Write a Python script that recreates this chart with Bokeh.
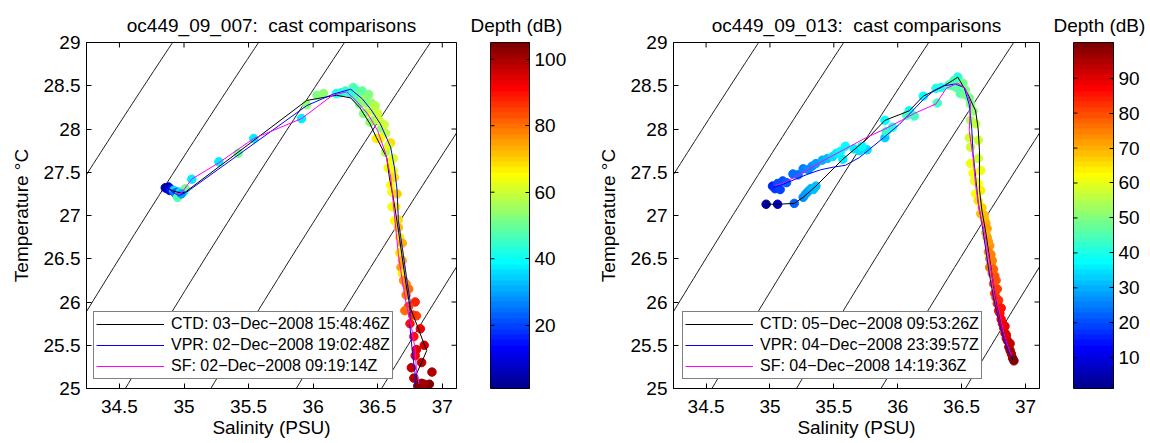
import numpy as np
from bokeh.plotting import figure
from bokeh.layouts import row
from bokeh.models import (ColumnDataSource, LinearColorMapper, FixedTicker,
                          LinearAxis, Range1d)
from bokeh.embed import file_html
from bokeh.resources import INLINE

FONT = "Liberation Sans"

# ---------------- data ----------------
titles = ["oc449_09_007:\u00a0 cast comparisons", "oc449_09_013:\u00a0 cast comparisons"]
colorbar_title = "Depth (dB)"
x_label = "Salinity (PSU)"
y_label = "Temperature °C"

legend_007 = ["CTD: 03−Dec−2008 15:48:46Z", "VPR: 02−Dec−2008 19:02:48Z", "SF: 02−Dec−2008 09:19:14Z"]
legend_013 = ["CTD: 05−Dec−2008 09:53:26Z", "VPR: 04−Dec−2008 23:39:57Z", "SF: 04−Dec−2008 14:19:36Z"]

x_ticks = [34.5, 35, 35.5, 36, 36.5, 37]
x_tick_labels = ["34.5", "35", "35.5", "36", "36.5", "37"]
y_ticks = [25, 25.5, 26, 26.5, 27, 27.5, 28, 28.5, 29]
y_tick_labels = ["25", "25.5", "26", "26.5", "27", "27.5", "28", "28.5", "29"]
salinity_range = [34.245, 37.11]
temperature_range = [25, 29]
sigma_levels = [21.5, 22.0, 22.5, 23.0, 23.5, 24.0, 24.5, 25.0, 25.5]

depth_range_007 = [1, 105]
depth_ticks_007 = [20, 40, 60, 80, 100]
depth_range_013 = [1.2, 100.2]
depth_ticks_013 = [10, 20, 30, 40, 50, 60, 70, 80, 90]

# cast 007 profiles (lines)
ctd007_S = [34.86, 34.92, 34.98, 35.01, 35.95, 36.18, 36.29, 36.36, 36.44, 36.49, 36.57, 36.59,
            36.62, 36.66, 36.69, 36.72, 36.75, 36.81, 36.85, 36.88, 36.84, 36.80, 36.81]
ctd007_T = [27.33, 27.28, 27.26, 27.27, 28.33, 28.39, 28.36, 28.25, 28.06, 27.90, 27.67, 27.44,
            27.21, 26.83, 26.51, 26.20, 25.94, 25.71, 25.55, 25.44, 25.30, 25.17, 25.06]
vpr007_S = [34.86, 34.90, 34.96, 35.02, 35.42, 35.95, 36.15, 36.29, 36.38, 36.45, 36.52, 36.60,
            36.63, 36.65, 36.66, 36.69, 36.73, 36.75, 36.75, 36.77, 36.79, 36.79]
vpr007_T = [27.34, 27.28, 27.23, 27.27, 27.70, 28.27, 28.40, 28.46, 28.35, 28.22, 28.06, 27.79,
            27.55, 27.29, 26.94, 26.63, 26.21, 26.02, 25.71, 25.40, 25.17, 25.03]
sf007_S = [34.93, 34.98, 35.06, 35.27, 35.54, 35.91, 36.15, 36.26, 36.33, 36.42, 36.50, 36.56,
           36.60, 36.62, 36.64, 36.66, 36.69, 36.72, 36.76, 36.79, 36.80, 36.82]
sf007_T = [27.25, 27.26, 27.42, 27.61, 27.89, 28.12, 28.39, 28.43, 28.33, 28.18, 27.98, 27.72,
           27.45, 27.15, 26.85, 26.55, 26.25, 25.98, 25.72, 25.45, 25.20, 25.05]

# cast 007 observations coloured by depth
obs007_S = [34.855, 34.87, 34.88, 34.89, 34.90, 34.92, 34.93, 34.95, 34.96, 34.97, 34.95, 35.00, 35.01, 34.98,
            35.06, 35.27, 35.42, 35.54, 35.91, 35.95, 36.03, 36.08, 36.18, 36.22, 36.25, 36.29, 36.31, 36.33,
            36.34, 36.36, 36.36, 36.39, 36.42, 36.39, 36.45, 36.48, 36.50, 36.47, 36.44, 36.53, 36.56, 36.52,
            36.49, 36.60, 36.56, 36.58, 36.62, 36.62, 36.63, 36.60, 36.61, 36.65, 36.61, 36.64, 36.63, 36.66,
            36.66, 36.67, 36.69, 36.67, 36.69, 36.68, 36.69, 36.70, 36.72, 36.74, 36.72, 36.79, 36.74, 36.71,
            36.80, 36.77, 36.75, 36.83, 36.78, 36.86, 36.80, 36.79, 36.84, 36.76, 36.92, 36.78, 36.81, 36.84,
            36.90, 36.86,
            36.38, 36.41, 36.43, 36.46, 36.51, 36.55, 36.58, 36.60]
obs007_T = [27.32, 27.31, 27.33, 27.29, 27.30, 27.29, 27.26, 27.27, 27.24, 27.27, 27.21, 27.28, 27.31, 27.25,
            27.42, 27.62, 27.72, 27.89, 28.12, 28.28, 28.39, 28.41, 28.41, 28.42, 28.44, 28.41, 28.48, 28.45,
            28.35, 28.42, 28.29, 28.36, 28.19, 28.18, 28.30, 28.27, 28.18, 28.10, 28.08, 28.01, 27.95, 27.89,
            27.89, 27.84, 27.73, 27.55, 27.66, 27.52, 27.44, 27.35, 27.27, 27.25, 27.10, 27.10, 26.94, 26.95,
            26.86, 26.75, 26.68, 26.57, 26.48, 26.40, 26.33, 26.25, 26.21, 26.15, 26.08, 26.00, 25.95, 25.90,
            25.84, 25.85, 25.75, 25.69, 25.60, 25.50, 25.45, 25.38, 25.30, 25.24, 25.19, 25.12, 25.03, 25.06,
            25.05, 25.05,
            28.44, 28.30, 28.40, 28.22, 28.10, 28.05, 27.80, 27.62]
obs007_depth = [3, 6, 5, 12, 15, 36, 26, 22, 33, 37, 47, 38, 50, 30,
                37, 38, 50, 38, 38, 53, 52, 53, 40, 42, 44, 43, 47, 46,
                48, 50, 50, 55, 63, 52, 55, 57, 60, 56, 53, 54, 58, 65,
                66, 68, 57, 63, 62, 64, 68, 65, 64, 70, 64, 67, 65, 69,
                72, 66, 74, 66, 74, 75, 66, 77, 76, 80, 78, 88, 84, 80,
                84, 86, 90, 92, 90, 96, 95, 93, 97, 98, 100, 100, 103, 102,
                104, 101,
                49, 53, 52, 58, 61, 60, 62, 63]

# cast 013 profiles (lines)
ctd013_S = [34.97, 35.06, 35.19, 35.26, 35.36, 35.57, 35.77, 35.90, 36.09, 36.20, 36.34, 36.43, 36.47,
            36.55, 36.61, 36.63, 36.64, 36.64, 36.64, 36.66, 36.69, 36.72, 36.75, 36.78, 36.82, 36.86, 36.90]
ctd013_T = [27.13, 27.13, 27.14, 27.21, 27.34, 27.65, 27.90, 28.10, 28.21, 28.38, 28.48, 28.56, 28.60,
            28.40, 28.21, 28.00, 27.75, 27.55, 27.30, 27.05, 26.80, 26.50, 26.20, 25.95, 25.70, 25.50, 25.33]
vpr013_S = [35.02, 35.10, 35.20, 35.30, 35.40, 35.50, 35.59, 35.70, 35.89, 36.01, 36.11, 36.20, 36.29,
            36.36, 36.45, 36.52, 36.56, 36.58, 36.59, 36.61, 36.63, 36.66, 36.69, 36.72, 36.75, 36.78,
            36.81, 36.84, 36.87, 36.90]
vpr013_T = [27.32, 27.36, 27.42, 27.48, 27.53, 27.56, 27.58, 27.67, 27.90, 28.05, 28.20, 28.34, 28.45,
            28.50, 28.52, 28.48, 28.28, 28.00, 27.72, 27.45, 27.15, 26.90, 26.60, 26.30, 26.05, 25.85,
            25.68, 25.53, 25.42, 25.35]
sf013_S = [35.04, 35.10, 35.20, 35.33, 35.45, 35.59, 35.74, 35.90, 36.03, 36.13, 36.30, 36.38, 36.47,
           36.53, 36.57, 36.56, 36.59, 36.61, 36.64, 36.68, 36.71, 36.74, 36.77, 36.80, 36.83, 36.86, 36.89]
sf013_T = [27.35, 27.37, 27.45, 27.56, 27.66, 27.77, 27.89, 28.00, 28.10, 28.18, 28.29, 28.47, 28.53,
           28.47, 28.29, 27.98, 27.67, 27.35, 27.05, 26.80, 26.55, 26.30, 26.05, 25.85, 25.65, 25.50, 25.38]

# cast 013 observations coloured by depth
obs013_S = [34.97, 35.06, 35.19, 35.26, 35.28, 35.30, 35.32, 35.34, 35.36,
            35.02, 35.04, 35.06, 35.08, 35.10, 35.13, 35.18, 35.22, 35.26, 35.30, 35.33, 35.36, 35.41,
            35.45, 35.49, 35.52, 35.55, 35.59,
            35.57, 35.66, 35.70, 35.76, 35.72, 35.90, 35.90, 35.91, 35.96,
            36.09, 36.07, 36.13, 36.20, 36.30, 36.34, 36.31, 36.47, 36.40, 36.43, 36.44, 36.46, 36.51,
            36.53, 36.49, 36.52, 36.56, 36.57, 36.59, 36.57, 36.61, 36.56, 36.63, 36.57, 36.63, 36.57,
            36.65, 36.59, 36.60, 36.63, 36.65, 36.61, 36.63, 36.66, 36.65, 36.68, 36.69, 36.70, 36.72,
            36.71, 36.73, 36.72, 36.74, 36.76, 36.75, 36.76, 36.77, 36.78, 36.79, 36.80, 36.82, 36.83,
            36.84, 36.85, 36.86, 36.87, 36.88, 36.90,
            36.70, 36.71, 36.73, 36.74, 36.75, 36.77, 36.78, 36.79, 36.81, 36.81, 36.84, 36.85, 36.88,
            36.89, 36.91, 36.68, 36.69, 36.72]
obs013_T = [27.13, 27.13, 27.14, 27.21, 27.25, 27.28, 27.31, 27.30, 27.34,
            27.34, 27.31, 27.37, 27.30, 27.40, 27.38, 27.48, 27.47, 27.54, 27.53, 27.57, 27.60, 27.64,
            27.66, 27.68, 27.72, 27.74, 27.80,
            27.65, 27.77, 27.75, 27.76, 27.80, 27.90, 28.10, 27.97, 28.02,
            28.21, 28.16, 28.15, 28.38, 28.47, 28.48, 28.30, 28.60, 28.51, 28.50, 28.56, 28.48, 28.53,
            28.45, 28.41, 28.40, 28.36, 28.29, 28.21, 28.10, 28.06, 27.90, 27.87, 27.79, 27.66, 27.60,
            27.52, 27.49, 27.40, 27.37, 27.29, 27.25, 27.17, 27.09, 27.02, 26.95, 26.91, 26.75, 26.65,
            26.58, 26.44, 26.40, 26.33, 26.30, 26.21, 26.10, 26.05, 25.98, 25.90, 25.87, 25.75, 25.70,
            25.64, 25.58, 25.55, 25.48, 25.44, 25.35,
            26.85, 26.70, 26.55, 26.48, 26.38, 26.25, 26.15, 26.02, 25.93, 25.80, 25.72, 25.62, 25.52,
            25.40, 25.32, 27.00, 26.80, 26.50]
obs013_depth = [3, 6, 22, 26, 28, 29, 30, 31, 32,
                16, 18, 20, 19, 20, 22, 23, 24, 25, 26, 27, 29, 30,
                32, 34, 36, 37, 38,
                36, 36, 34, 35, 37, 33, 38, 42, 40,
                38, 43, 43, 38, 40, 40, 43, 40, 45, 46, 44, 47, 48,
                50, 46, 49, 48, 50, 52, 55, 56, 57, 57, 58, 58, 60,
                60, 62, 61, 63, 64, 63, 65, 67, 68, 69, 70, 72, 73,
                74, 76, 76, 78, 79, 80, 82, 83, 84, 85, 86, 88, 89,
                90, 91, 93, 95, 96, 99,
                71, 72, 74, 75, 77, 79, 81, 83, 85, 87, 88, 90, 94,
                97, 100, 68, 70, 75]


# ---------------- helpers ----------------
def jet(m=64):
    n = int(np.ceil(m / 4))
    u = np.concatenate([np.arange(1, n + 1) / n, np.ones(n - 1), np.arange(n, 0, -1) / n])
    g = int(np.ceil(n / 2)) - (1 if m % 4 == 1 else 0) + np.arange(1, len(u) + 1)
    r = g + n
    b = g - n
    g = g[g <= m]
    r = r[r <= m]
    b = b[b >= 1]
    J = np.zeros((m, 3))
    J[r - 1, 0] = u[:len(r)]
    J[g - 1, 1] = u[:len(g)]
    J[b - 1, 2] = u[len(u) - len(b):]
    return ["#%02x%02x%02x" % tuple(int(round(c * 255)) for c in rgb) for rgb in J]


JET = jet(64)


def sigma_t(S, T):
    rho_w = (999.842594 + 6.793952e-2 * T - 9.095290e-3 * T**2 + 1.001685e-4 * T**3
             - 1.120083e-6 * T**4 + 6.536332e-9 * T**5)
    A = 0.824493 - 4.0899e-3 * T + 7.6438e-5 * T**2 - 8.2467e-7 * T**3 + 5.3875e-9 * T**4
    B = -5.72466e-3 + 1.0227e-4 * T - 1.6546e-6 * T**2
    C = 4.8314e-4
    return rho_w + A * S + B * S**1.5 + C * S**2 - 1000.0


def style_axis(ax, size="19px"):
    ax.major_tick_in = 5
    ax.major_tick_out = 0
    ax.minor_tick_line_color = None
    ax.axis_line_color = "black"
    ax.major_tick_line_color = "black"
    ax.major_label_text_font = FONT
    ax.major_label_text_font_size = size
    ax.major_label_text_color = "black"
    ax.axis_label_text_font = FONT
    ax.axis_label_text_font_size = size
    ax.axis_label_text_font_style = "normal"
    ax.axis_label_text_color = "black"


def style_title(t, standoff):
    t.text_font = FONT
    t.text_font_size = "19px"
    t.text_font_style = "normal"
    t.text_color = "black"
    t.standoff = standoff


def make_panel(title, casts, labels, obs, depth_range, width, left_border, right_border, legend_x):
    p = figure(width=width, height=443, x_range=Range1d(*salinity_range),
               y_range=Range1d(*temperature_range), output_backend="svg",
               toolbar_location=None, title=title,
               min_border_left=left_border, min_border_right=right_border,
               min_border_top=42, min_border_bottom=55)
    p.grid.visible = False
    p.outline_line_color = "black"
    p.outline_line_alpha = 1
    p.background_fill_color = "white"
    p.border_fill_color = "white"
    style_title(p.title, 13)
    p.title.align = "center"

    style_axis(p.xaxis[0])
    style_axis(p.yaxis[0])
    p.xaxis.ticker = FixedTicker(ticks=x_ticks)
    p.yaxis.ticker = FixedTicker(ticks=y_ticks)
    p.xaxis.major_label_overrides = dict(zip(x_ticks, x_tick_labels))
    p.yaxis.major_label_overrides = dict(zip(y_ticks, y_tick_labels))
    p.xaxis.axis_label = x_label
    p.yaxis.axis_label = y_label
    p.xaxis.major_label_standoff = 11
    p.xaxis.axis_label_standoff = 1
    p.yaxis.major_label_standoff = 6
    p.yaxis.axis_label_standoff = 9

    # isopycnals (sigma-t contours, UNESCO EOS80 at surface pressure)
    sg = np.linspace(33.8, 37.6, 80)
    tg = np.linspace(24.5, 29.5, 80)
    SS, TT = np.meshgrid(sg, tg)
    p.contour(x=sg, y=tg, z=sigma_t(SS, TT), levels=sigma_levels,
              line_color="black", line_width=0.9)

    mapper = LinearColorMapper(palette=JET, low=depth_range[0], high=depth_range[1])
    src = ColumnDataSource(dict(S=obs[0], T=obs[1], depth=obs[2]))
    p.scatter(x="S", y="T", source=src, size=8.5,
              fill_color={"field": "depth", "transform": mapper},
              line_color={"field": "depth", "transform": mapper})

    colors = ["black", "#0000ff", "#ff00ff"]
    for (S, T), lab, c in zip(casts, labels, colors):
        p.line(S, T, line_color=c, line_width=1, legend_label=lab)

    # inward tick marks on the top and right edges of the box
    p.scatter(x=x_ticks, y=[temperature_range[1]] * len(x_ticks), marker="dash",
              angle=np.pi / 2, size=10, line_color="black", line_width=1)
    p.scatter(x=[salinity_range[1]] * len(y_ticks), y=y_ticks, marker="dash",
              size=10, line_color="black", line_width=1)

    lg = p.legend[0]
    lg.location = (legend_x, 9)
    lg.label_text_font = FONT
    lg.label_text_font_size = "16px"
    lg.label_text_color = "black"
    lg.padding = 2
    lg.spacing = 1
    lg.margin = 0
    lg.label_height = 20
    lg.glyph_height = 20
    lg.glyph_width = 68
    lg.label_standoff = 7
    lg.border_line_color = "black"
    lg.border_line_width = 1
    lg.background_fill_alpha = 1

    return p, mapper


def make_colorbar(mapper, depth_range, depth_ticks, width, left_border, frame_w, title_offset):
    low, high = depth_range
    cb = figure(width=width, height=443, x_range=Range1d(0, 1), y_range=Range1d(low, high),
                x_axis_type=None, y_axis_type=None, output_backend="svg",
                toolbar_location=None, title=colorbar_title,
                min_border_left=left_border, min_border_right=width - left_border - frame_w,
                min_border_top=42, min_border_bottom=55)
    cb.grid.visible = False
    cb.outline_line_color = "black"
    style_title(cb.title, 13)
    cb.title.align = "left"
    cb.title.offset = title_offset
    vals = low + (np.arange(len(JET)) + 0.5) * (high - low) / len(JET)
    cb.image(image=[vals.reshape(-1, 1)], x=0, y=low, dw=1, dh=high - low, color_mapper=mapper)
    cb.scatter(x=[0] * len(depth_ticks), y=depth_ticks, marker="dash", size=8,
               line_color="black", line_width=1)
    ax = LinearAxis(ticker=FixedTicker(ticks=depth_ticks))
    style_axis(ax)
    ax.major_tick_in = 4
    ax.major_label_standoff = 5
    cb.add_layout(ax, "right")
    return cb


p1, m1 = make_panel(titles[0],
                    [(ctd007_S, ctd007_T), (vpr007_S, vpr007_T), (sf007_S, sf007_T)],
                    legend_007, (obs007_S, obs007_T, obs007_depth),
                    depth_range_007, width=462, left_border=86, right_border=6, legend_x=7)
cb1 = make_colorbar(m1, depth_range_007, depth_ticks_007, width=132, left_border=28,
                    frame_w=39, title_offset=-20)
p2, m2 = make_panel(titles[1],
                    [(ctd013_S, ctd013_T), (vpr013_S, vpr013_T), (sf013_S, sf013_T)],
                    legend_013, (obs013_S, obs013_T, obs013_depth),
                    depth_range_013, width=454, left_border=75, right_border=9, legend_x=9)
cb2 = make_colorbar(m2, depth_range_013, depth_ticks_013, width=102, left_border=25,
                    frame_w=40, title_offset=-20)

layout = row(p1, cb1, p2, cb2)
open("out.html", "w").write(file_html(layout, INLINE))
